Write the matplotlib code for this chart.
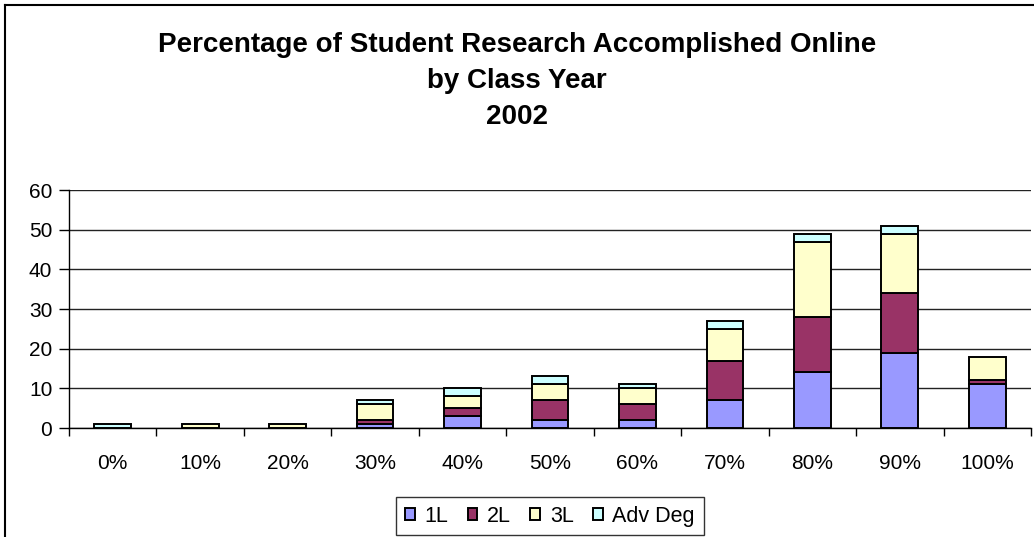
import matplotlib
matplotlib.use("Agg")
import matplotlib.pyplot as plt
from matplotlib.lines import Line2D
import numpy as np

plt.rcParams['font.family'] = ['Liberation Sans', 'DejaVu Sans']

categories = ["0%", "10%", "20%", "30%", "40%", "50%", "60%", "70%", "80%", "90%", "100%"]
series_names = ["1L", "2L", "3L", "Adv Deg"]
v_1L = [0, 0, 0, 1, 3, 2, 2, 7, 14, 19, 11]
v_2L = [0, 0, 0, 1, 2, 5, 4, 10, 14, 15, 1]
v_3L = [0, 1, 1, 4, 3, 4, 4, 8, 19, 15, 6]
v_adv = [1, 0, 0, 1, 2, 2, 1, 2, 2, 2, 0]
colors = ["#9999FF", "#993366", "#FFFFCC", "#CCFFFF"]
yticks = [0, 10, 20, 30, 40, 50, 60]
title = "Percentage of Student Research Accomplished Online\nby Class Year\n2002"

W, H = 1034, 537
fig = plt.figure(figsize=(W / 100, H / 100), dpi=100)
ax = fig.add_axes([69 / W, 1 - 428 / H, (1031 - 69) / W, (428 - 190) / H])

x = np.arange(len(categories))
bottom = np.zeros(len(categories))
handles = []
for name, vals, c in zip(series_names, [v_1L, v_2L, v_3L, v_adv], colors):
    vals = np.array(vals, dtype=float)
    mask = vals > 0
    b = ax.bar(x[mask], vals[mask], bottom=bottom[mask], width=0.42, color=c,
               edgecolor="black", linewidth=1.4, label=name, zorder=3)
    handles.append(b)
    bottom += vals

ax.set_xlim(-0.5, len(categories) - 0.5)
ax.set_ylim(0, 60)
ax.set_yticks(yticks)
ax.set_yticklabels([str(t) for t in yticks], fontsize=15)
ax.yaxis.grid(True, color="#222222", linewidth=1.0, zorder=0)
ax.set_axisbelow(True)

ax.set_xticks(np.arange(-0.5, len(categories), 1.0), minor=False)
ax.set_xticklabels([])
ax.set_xticks(x, minor=True)
ax.set_xticklabels(categories, minor=True, fontsize=15)
ax.tick_params(axis="x", which="minor", length=0, pad=19)
ax.tick_params(axis="x", which="major", length=6, width=1, color="black", direction="out")
ax.tick_params(axis="y", length=7, width=1, direction="out", pad=5)

for s in ["top", "right"]:
    ax.spines[s].set_visible(False)
ax.spines["left"].set_linewidth(1.0)
ax.spines["bottom"].set_linewidth(1.0)

fig.text(0.5, 1 - 81 / H, title, ha="center", va="center",
         fontsize=20, fontweight="bold", linespacing=1.5)

leg = fig.legend(handles=handles, labels=series_names, loc="upper center",
                 bbox_to_anchor=(550 / W, 1 - 497 / H), ncol=4, frameon=True,
                 fancybox=False, edgecolor="black", fontsize=15.5,
                 handlelength=0.45, handleheight=0.45, handletextpad=0.45,
                 columnspacing=0.9, borderpad=0.4, borderaxespad=0)
leg.get_frame().set_linewidth(1.0)

fig.add_artist(Line2D([5 / W, 5 / W], [0, 1 - 5 / H], color="black", linewidth=1.5, transform=fig.transFigure))
fig.add_artist(Line2D([5 / W, 1], [1 - 5 / H, 1 - 5 / H], color="black", linewidth=1.5, transform=fig.transFigure))

fig.savefig("out.png", dpi=100)
